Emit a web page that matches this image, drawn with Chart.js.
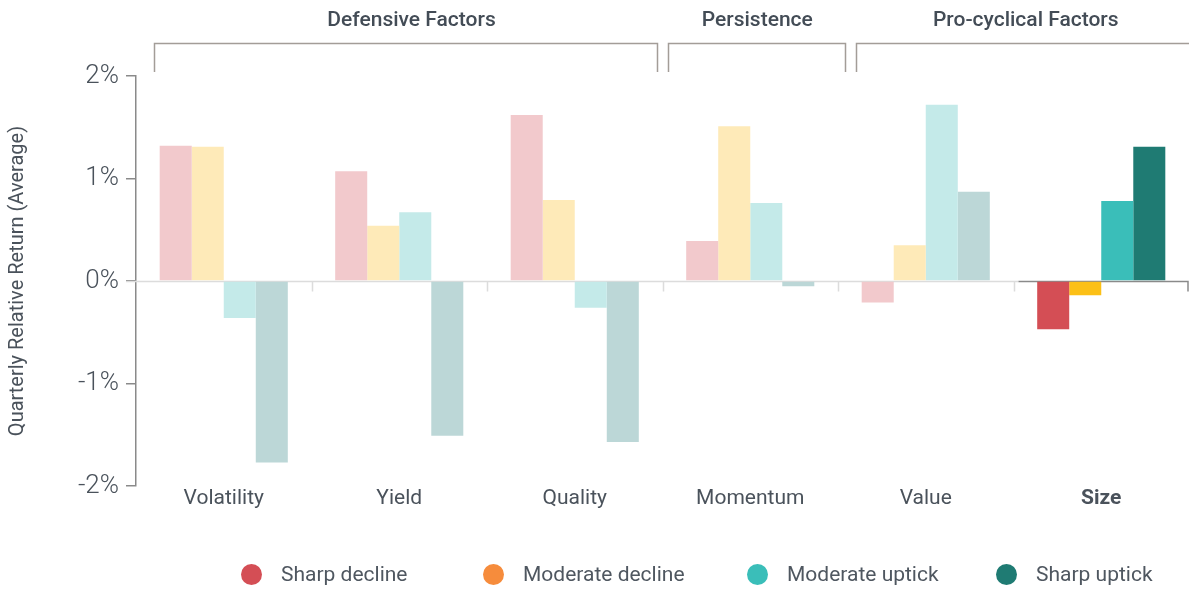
<!DOCTYPE html>
<html lang="en">
<head>
    <meta charset="UTF-8">
    <title>Factor returns by regime</title>
    <script src="https://cdn.jsdelivr.net/npm/chart.js"></script>
    <style>
        body { margin: 0; background: #fff; font-family: Roboto, Arial, sans-serif; }
        #wrap { position: relative; width: 1189px; height: 589px; }
        #leyenda { position: absolute; top: 563px; left: 0; width: 1189px; height: 24px; }
        .item { position: absolute; top: 0; display: flex; align-items: center; color: #4f5760; font-size: 21px; line-height: 22px; }
        .dot { width: 21px; height: 21px; border-radius: 50%; margin-right: 19px; }
    </style>
</head>
<body>
<div id="wrap">
    <canvas id="grafico" width="1189" height="589"></canvas>
    <div id="leyenda"></div>
</div>
<script>
    // datos (% medio trimestral)
    const categories = ["Volatility", "Yield", "Quality", "Momentum", "Value", "Size"];
    const seriesNames = ["Sharp decline", "Moderate decline", "Moderate uptick", "Sharp uptick"];
    const sharpDecline = [1.32, 1.07, 1.62, 0.39, -0.21, -0.47];
    const moderateDecline = [1.31, 0.54, 0.79, 1.51, 0.35, -0.14];
    const moderateUptick = [-0.36, 0.67, -0.26, 0.76, 1.72, 0.78];
    const sharpUptick = [-1.77, -1.51, -1.57, -0.05, 0.87, 1.31];
    const yTicks = [-2, -1, 0, 1, 2];
    const groupLabels = ["Defensive Factors", "Persistence", "Pro-cyclical Factors"];
    const highlighted = "Size";

    const strongColors = ["#D44E55", "#FCC016", "#3ABEB9", "#1F7B73"];
    const fadedColors = ["#F2C9CC", "#FEEAB8", "#C4EAE9", "#BCD7D7"];
    const legendColors = ["#D44E55", "#F68C3C", "#3ABEB9", "#1F7B73"];
    const textColor = "#4a525b";

    // tramos de los corchetes en unidades de categoria
    const groupSpans = [[-0.4, 2.47, 1.07], [2.53, 3.54, 3.04], [3.6, 5.7, 4.57]];
    const legendX = [241, 483, 747, 996];

    const allSeries = [sharpDecline, moderateDecline, moderateUptick, sharpUptick];

    const datasets = seriesNames.map((name, i) => ({
        label: name,
        data: allSeries[i],
        backgroundColor: categories.map(c => c === highlighted ? strongColors[i] : fadedColors[i]),
        borderWidth: 0
    }));

    // linea del cero y marcas entre categorias
    const zeroLine = {
        id: "zeroLine",
        beforeDatasetsDraw(chart) {
            const ctx = chart.ctx;
            const x = chart.scales.x, y = chart.scales.y;
            const y0 = Math.round(y.getPixelForValue(0)) + 0.5;
            const step = x.getPixelForValue(1) - x.getPixelForValue(0);
            const hi = categories.indexOf(highlighted);
            const hiLeft = x.getPixelForValue(hi) - step / 2 + 5;
            ctx.save();
            ctx.lineWidth = 1.5;
            ctx.strokeStyle = "#dcdcdc";
            ctx.beginPath();
            ctx.moveTo(chart.chartArea.left - 10, y0);
            ctx.lineTo(hiLeft, y0);
            for (let i = 1; i < categories.length; i++) {
                const xb = Math.round(x.getPixelForValue(i) - step / 2) + 0.5;
                ctx.moveTo(xb, y0);
                ctx.lineTo(xb, y0 + 10);
            }
            ctx.stroke();
            ctx.strokeStyle = "#8a8a8a";
            ctx.beginPath();
            ctx.moveTo(hiLeft, y0);
            ctx.lineTo(chart.chartArea.right - 1, y0);
            ctx.lineTo(chart.chartArea.right - 1, y0 + 10);
            ctx.stroke();
            ctx.restore();
        }
    };

    // corchetes y titulos de grupo arriba
    const groupBrackets = {
        id: "groupBrackets",
        afterDraw(chart) {
            const ctx = chart.ctx;
            const x = chart.scales.x;
            const step = x.getPixelForValue(1) - x.getPixelForValue(0);
            const px = v => x.getPixelForValue(0) + v * step;
            ctx.save();
            ctx.strokeStyle = "#a39d98";
            ctx.lineWidth = 1.5;
            ctx.fillStyle = "#434c56";
            ctx.font = "500 21px Roboto";
            ctx.textAlign = "center";
            ctx.textBaseline = "middle";
            groupLabels.forEach((label, i) => {
                const [a, b, c] = groupSpans[i];
                const x1 = Math.round(px(a)) + 0.5, x2 = Math.round(px(b)) + 0.5;
                ctx.beginPath();
                ctx.moveTo(x1, 72);
                ctx.lineTo(x1, 43.5);
                ctx.lineTo(x2, 43.5);
                ctx.lineTo(x2, 72);
                ctx.stroke();
                ctx.fillText(label, px(c), 21);
            });
            ctx.restore();
        }
    };

    const ctx = document.getElementById("grafico").getContext("2d");
    const chart = new Chart(ctx, {
        type: "bar",
        data: { labels: categories, datasets: datasets },
        options: {
            responsive: false,
            animation: false,
            layout: { padding: { top: 76, right: 0, bottom: 0, left: 0 } },
            categoryPercentage: 0.73,
            barPercentage: 1,
            plugins: { legend: { display: false }, tooltip: { enabled: false } },
            scales: {
                x: {
                    grid: { display: false, drawTicks: false },
                    border: { display: false },
                    ticks: {
                        padding: 0,
                        color: textColor,
                        font: c => ({ family: "Roboto", size: 21, weight: categories[c.index] === highlighted ? "bold" : "normal" })
                    },
                    afterFit: s => { s.height = 103; }
                },
                y: {
                    min: -2,
                    max: 2,
                    afterBuildTicks: s => { s.ticks = yTicks.map(v => ({ value: v })); },
                    grid: { drawOnChartArea: false, drawTicks: true, tickLength: 10, color: "#8a8a8a", lineWidth: 1.5 },
                    border: { color: "#8a8a8a", width: 1.5 },
                    ticks: {
                        padding: 7,
                        color: textColor,
                        font: { family: "Roboto", size: 26, weight: "300" },
                        callback: v => v + "%"
                    },
                    title: {
                        display: true,
                        text: "Quarterly Relative Return (Average)",
                        color: textColor,
                        font: { family: "Roboto", size: 20 },
                        padding: { top: 6, bottom: 0 }
                    },
                    afterFit: s => { s.width = 136; }
                }
            }
        },
        plugins: [zeroLine, groupBrackets]
    });

    // leyenda en html
    const leyenda = document.getElementById("leyenda");
    seriesNames.forEach((name, i) => {
        const item = document.createElement("div");
        item.className = "item";
        item.style.left = legendX[i] + "px";
        item.innerHTML = `<span class="dot" style="background:${legendColors[i]}"></span><span>${name}</span>`;
        leyenda.appendChild(item);
    });
</script>
</body>
</html>
